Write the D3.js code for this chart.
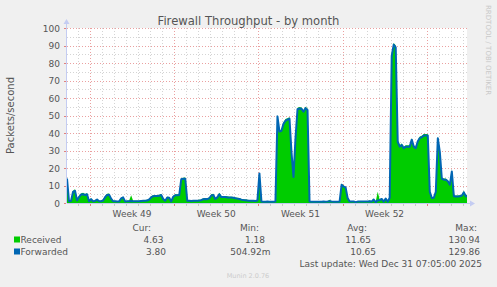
<!DOCTYPE html>
<html>
<head>
<meta charset="utf-8">
<script src="https://cdn.jsdelivr.net/npm/d3@7"></script>
<style>
  html, body { margin: 0; padding: 0; background: #f0f0f0; }
  svg { display: block; font-family: "DejaVu Sans", sans-serif; }
</style>
</head>
<body>
<div id="chart"></div>
<script>
// data, 4-hourly samples starting at the left edge of the graph
const startTime = new Date("2025-11-28T02:10:00Z");
const endTime = new Date("2025-12-31T08:25:00Z");
const stepHours = 4;

const received = [
  14.5, 1.2, 1.5, 7.0, 7.8, 1.8, 4.0, 5.5, 5.8, 5.2,
  5.6, 1.3, 2.7, 1.3, 1.6, 2.4, 1.3, 1.3, 1.8, 4.0,
  5.3, 5.4, 3.0, 1.3, 1.3, 1.2, 1.2, 3.0, 3.6, 1.2,
  1.3, 1.4, 4.5, 1.3, 1.3, 1.3, 1.3, 1.6, 1.7, 1.7,
  1.8, 2.5, 3.8, 4.5, 4.6, 4.6, 4.7, 5.2, 2.8, 1.7,
  3.6, 3.4, 1.2, 4.2, 5.0, 5.0, 5.1, 14.2, 14.5, 14.6,
  1.7, 1.7, 1.6, 1.7, 1.7, 1.7, 1.8, 2.0, 2.7, 2.8,
  2.7, 3.2, 5.0, 5.3, 2.8, 3.8, 5.8, 4.0, 4.0, 4.0,
  3.8, 3.6, 3.6, 3.5, 3.2, 3.0, 2.8, 2.3, 2.1, 2.0,
  1.8, 1.7, 1.7, 1.7, 1.6, 1.8, 17.4, 1.2, 0.9, 0.9,
  1.0, 0.9, 0.9, 0.9, 1.0, 50.3, 41.5, 42.0, 46.0, 48.0,
  48.5, 49.0, 30.0, 15.5, 38.0, 54.5, 54.8, 54.6, 53.0, 55.0,
  54.0, 1.0, 0.9, 0.9, 0.9, 0.9, 0.9, 0.9, 1.0, 0.9,
  1.0, 1.8, 1.0, 0.9, 0.9, 0.9, 1.0, 11.0, 10.0, 9.5,
  3.4, 1.0, 1.0, 1.2, 0.6, 1.0, 1.0, 1.0, 1.0, 1.0,
  1.0, 1.4, 1.0, 2.4, 0.6, 6.5, 2.0, 2.8, 1.0, 3.0,
  0.9, 3.5, 85.0, 91.5, 90.0, 36.0, 33.0, 34.0, 32.0, 33.0,
  33.0, 33.0, 37.0, 33.0, 32.0, 36.0, 38.0, 38.5, 39.5, 39.5,
  39.5, 7.0, 3.4, 3.5, 7.0, 37.8, 30.0, 14.5, 14.0, 14.0,
  13.0, 11.0, 18.7, 4.5, 4.3, 4.3, 4.4, 4.8, 6.8, 4.6
];

const forwarded = [
  14.0, 1.0, 1.2, 6.3, 7.0, 1.5, 3.4, 4.8, 5.0, 4.6,
  5.0, 1.0, 2.2, 1.0, 1.2, 2.0, 1.0, 1.0, 1.4, 3.3,
  4.6, 4.7, 2.5, 1.0, 1.0, 0.9, 0.9, 2.6, 3.2, 0.9,
  1.0, 1.0, 1.1, 1.0, 1.0, 1.0, 1.0, 1.2, 1.3, 1.3,
  1.4, 2.0, 3.2, 3.9, 4.0, 4.0, 4.1, 4.6, 2.3, 1.3,
  3.1, 3.0, 0.9, 3.6, 4.4, 4.4, 4.5, 13.6, 13.9, 13.9,
  1.3, 1.3, 1.2, 1.3, 1.3, 1.3, 1.4, 1.6, 2.2, 2.3,
  2.2, 2.7, 4.3, 4.6, 2.3, 3.2, 5.0, 3.4, 3.4, 3.4,
  3.2, 3.1, 3.1, 3.0, 2.7, 2.5, 2.3, 1.9, 1.7, 1.6,
  1.4, 1.3, 1.3, 1.3, 1.2, 1.4, 16.9, 0.9, 0.7, 0.7,
  0.8, 0.7, 0.7, 0.7, 0.8, 49.5, 40.8, 41.3, 45.2, 47.0,
  47.6, 48.2, 29.0, 14.9, 37.0, 53.6, 54.0, 53.8, 52.2, 54.2,
  53.2, 0.8, 0.7, 0.7, 0.7, 0.7, 0.7, 0.7, 0.8, 0.7,
  0.8, 1.0, 0.8, 0.7, 0.7, 0.7, 0.8, 10.4, 9.4, 8.9,
  2.9, 0.8, 0.8, 0.9, 0.5, 0.8, 0.8, 0.8, 0.8, 0.8,
  0.8, 1.0, 0.8, 2.0, 0.5, 1.5, 1.6, 2.3, 0.8, 2.5,
  0.7, 3.0, 84.0, 90.5, 89.0, 35.0, 32.2, 33.2, 31.3, 32.2,
  32.2, 32.2, 36.2, 32.2, 31.3, 35.2, 37.1, 37.6, 38.6, 38.6,
  38.6, 6.4, 2.9, 3.0, 6.4, 37.0, 29.2, 13.9, 13.3, 13.3,
  12.4, 10.4, 18.0, 3.9, 3.7, 3.7, 3.8, 4.2, 6.1, 3.8
];

const yTickValues = [0, 10, 20, 30, 40, 50, 60, 70, 80, 90, 100];
const yMinorValues = [5, 15, 25, 35, 45, 55, 65, 75, 85, 95];
const weekLabels = ["Week 49", "Week 50", "Week 51", "Week 52"];

const legendHeads = ["Cur:", "Min:", "Avg:", "Max:"];
const receivedStats = ["4.63", "1.18", "11.65", "130.94"];
const forwardedStats = ["3.80", "504.92m", "10.65", "129.86"];

const title = "Firewall Throughput - by month";
const yLabel = "Packets/second";
const lastUpdate = "Last update: Wed Dec 31 07:05:00 2025";

// ---------------------------------------------------------------
const W = 497, H = 287;
const pLeft = 67, pRight = 467, pTop = 28, pBottom = 203;

const svg = d3.select("#chart").append("svg")
    .attr("width", W).attr("height", H)
    .attr("viewBox", `0 0 ${W} ${H}`);

svg.append("rect").attr("width", W).attr("height", H).attr("fill", "#f0f0f0");
svg.append("rect")
    .attr("x", pLeft).attr("y", pTop)
    .attr("width", pRight - pLeft).attr("height", pBottom - pTop)
    .attr("fill", "#fff");

const x = d3.scaleUtc().domain([startTime, endTime]).range([pLeft, pRight]);
const y = d3.scaleLinear().domain([0, 100]).range([pBottom, pTop]);
const crisp = v => Math.round(v) + 0.5;

const days = d3.utcDay.range(startTime, endTime);
const weeks = d3.utcSunday.range(startTime, endTime);

// grid
const grid = svg.append("g").attr("fill", "none").attr("stroke-width", 1)
    .attr("stroke-dasharray", "1,2");

grid.selectAll(".vmin").data(days.filter(d => d.getUTCDay() !== 0)).join("line")
    .attr("x1", d => crisp(x(d))).attr("x2", d => crisp(x(d)))
    .attr("y1", pTop).attr("y2", pBottom)
    .attr("stroke", "#d4d4d4");
grid.selectAll(".hmin").data(yMinorValues).join("line")
    .attr("x1", pLeft).attr("x2", pRight)
    .attr("y1", d => crisp(y(d))).attr("y2", d => crisp(y(d)))
    .attr("stroke", "#d4d4d4");
grid.selectAll(".vmaj").data(weeks).join("line")
    .attr("x1", d => crisp(x(d))).attr("x2", d => crisp(x(d)))
    .attr("y1", pTop).attr("y2", pBottom)
    .attr("stroke", "#eaa0a0");
grid.selectAll(".hmaj").data(yTickValues.slice(1)).join("line")
    .attr("x1", pLeft).attr("x2", pRight)
    .attr("y1", d => crisp(y(d))).attr("y2", d => crisp(y(d)))
    .attr("stroke", "#eaa0a0");

// series
const times = received.map((_, i) => new Date(+startTime + i * stepHours * 3600e3));
const recPts = received.map((v, i) => [times[i], v]);
recPts.push([endTime, received[received.length - 1]]);
const fwdPts = forwarded.map((v, i) => [times[i], v]);
fwdPts.push([endTime, forwarded[forwarded.length - 1]]);

svg.append("path")
    .datum(recPts)
    .attr("fill", "#00cc00")
    .attr("d", d3.area().x(d => x(d[0])).y0(y(0)).y1(d => y(d[1])));

svg.append("path")
    .datum(fwdPts)
    .attr("fill", "none")
    .attr("stroke", "#0066b3")
    .attr("stroke-width", 2)
    .attr("stroke-linejoin", "round")
    .attr("d", d3.line().x(d => x(d[0])).y(d => y(d[1])));

// axes lines with arrows
const axisCol = "#c4ccf2";
svg.append("line").attr("x1", pLeft - 0.5).attr("x2", pLeft - 0.5)
    .attr("y1", pBottom).attr("y2", pTop - 6).attr("stroke", axisCol);
svg.append("path").attr("fill", axisCol)
    .attr("d", `M${pLeft - 3.5},${pTop - 4} L${pLeft - 0.5},${pTop - 9} L${pLeft + 2.5},${pTop - 4} Z`);
svg.append("line").attr("x1", pLeft).attr("x2", pRight + 5)
    .attr("y1", pBottom + 0.5).attr("y2", pBottom + 0.5).attr("stroke", axisCol);
svg.append("path").attr("fill", axisCol)
    .attr("d", `M${pRight + 3},${pBottom - 2.5} L${pRight + 8},${pBottom + 0.5} L${pRight + 3},${pBottom + 3.5} Z`);

// small tick marks
svg.selectAll(".xt").data(days).join("line")
    .attr("x1", d => crisp(x(d))).attr("x2", d => crisp(x(d)))
    .attr("y1", pBottom + 1).attr("y2", pBottom + 3)
    .attr("stroke", d => d.getUTCDay() === 0 ? "#e08080" : "#c8c8c8");
svg.selectAll(".yt").data(yTickValues).join("line")
    .attr("x1", pLeft - 3).attr("x2", pLeft - 1)
    .attr("y1", d => crisp(y(d))).attr("y2", d => crisp(y(d)))
    .attr("stroke", "#e08080");

// labels
const txt = "#555";
svg.selectAll(".yl").data(yTickValues).join("text")
    .attr("x", 60).attr("y", d => y(d) + 3.5)
    .attr("text-anchor", "end").attr("font-size", 9).attr("fill", txt)
    .text(d => d);

svg.selectAll(".wl").data(weekLabels).join("text")
    .attr("x", (d, i) => x(d3.utcHour.offset(weeks[i], 84)))
    .attr("y", 216.5)
    .attr("text-anchor", "middle").attr("font-size", 9).attr("fill", txt)
    .text(d => d);

svg.append("text")
    .attr("x", 248.5).attr("y", 25)
    .attr("text-anchor", "middle").attr("font-size", 11.6).attr("fill", txt)
    .text(title);

svg.append("text")
    .attr("transform", `translate(14,${(pTop + pBottom) / 2}) rotate(-90)`)
    .attr("text-anchor", "middle").attr("font-size", 10).attr("fill", txt)
    .text(yLabel);

svg.append("text")
    .attr("transform", "translate(486,5) rotate(90)")
    .attr("font-size", 7).attr("fill", "#c8c8c8")
    .text("RRDTOOL / TOBI OETIKER");

// legend
const headX = [151, 259, 367, 477];
svg.selectAll(".lh").data(legendHeads).join("text")
    .attr("x", (d, i) => headX[i]).attr("y", 230.5)
    .attr("text-anchor", "end").attr("font-size", 9).attr("fill", txt)
    .text(d => d);

const recX = [163.5, 265, 371, 480];
const fwdX = [166, 270.5, 376, 480];
const rows = [
  {name: "Received", color: "#00cc00", stats: receivedStats, xs: recX, y: 242.5},
  {name: "Forwarded", color: "#0066b3", stats: forwardedStats, xs: fwdX, y: 254.5}
];
rows.forEach(r => {
  svg.append("rect").attr("x", 14).attr("y", r.y - 6).attr("width", 6).attr("height", 6)
      .attr("fill", r.color);
  svg.append("text").attr("x", 20.5).attr("y", r.y)
      .attr("font-size", 9).attr("fill", txt).text(r.name);
  svg.selectAll(null).data(r.stats).join("text")
      .attr("x", (d, i) => r.xs[i]).attr("y", r.y)
      .attr("text-anchor", "end").attr("font-size", 9).attr("fill", txt)
      .text(d => d);
});

svg.append("text")
    .attr("x", 482).attr("y", 266.5)
    .attr("text-anchor", "end").attr("font-size", 9).attr("fill", txt)
    .text(lastUpdate);

svg.append("text")
    .attr("x", 248).attr("y", 277.5)
    .attr("text-anchor", "middle").attr("font-size", 6.5).attr("fill", "#cccccc")
    .text("Munin 2.0.76");
</script>
</body>
</html>
